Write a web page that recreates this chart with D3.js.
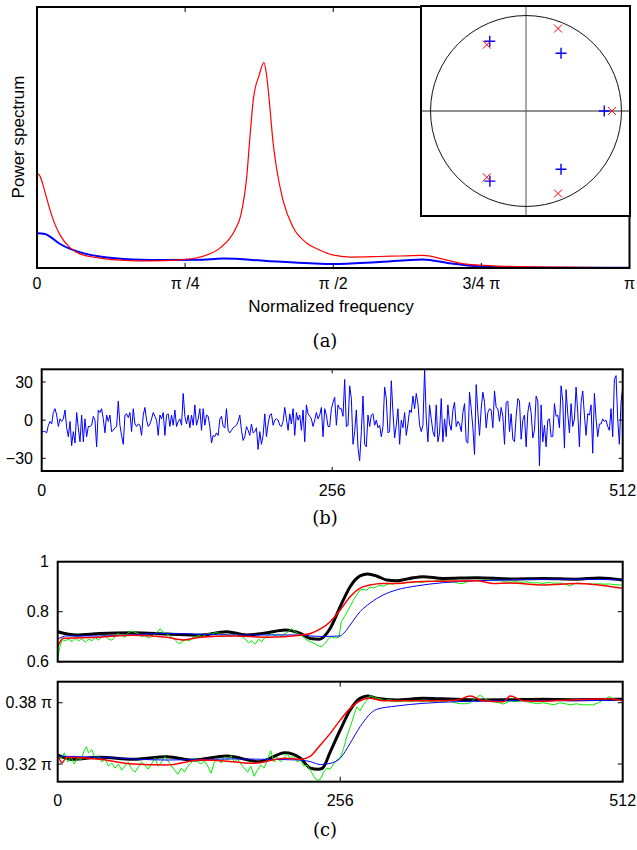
<!DOCTYPE html>
<html><head><meta charset="utf-8">
<script src="https://cdn.jsdelivr.net/npm/d3@7"></script>
<style>
html,body{margin:0;padding:0;background:#fff;}
svg text{font-family:"Liberation Sans",Arial,sans-serif;}
svg text.cap{font-family:"DejaVu Serif","Liberation Serif",serif;}
</style></head>
<body><svg id="c" width="637" height="850"></svg>
<script>
// ---------- (a) power spectrum (frequency in units of pi) ----------
const freqRed  = [0,0.005,0.0135,0.022,0.030,0.039,0.056,0.0725,0.106,0.148,0.19,0.241,0.275,0.309,0.334,0.344,0.354,0.359,0.365,0.375,0.383,0.387,0.393,0.398,0.404,0.415,0.432,0.455,0.477,0.499,0.528,0.578,0.612,0.651,0.685,0.713,0.747,0.798,0.882,1];
const powerRed = [0.364,0.352,0.291,0.222,0.169,0.126,0.077,0.054,0.038,0.029,0.027,0.031,0.042,0.077,0.146,0.203,0.350,0.49,0.644,0.739,0.787,0.747,0.617,0.49,0.387,0.261,0.157,0.096,0.069,0.050,0.042,0.044,0.046,0.048,0.034,0.019,0.011,0.006,0.003,0.001];
const freqBlue  = [0,0.0135,0.022,0.039,0.056,0.0776,0.106,0.162,0.219,0.275,0.314,0.388,0.46,0.499,0.572,0.651,0.696,0.747,0.815,1];
const powerBlue = [0.133,0.130,0.120,0.092,0.073,0.057,0.044,0.033,0.031,0.032,0.036,0.027,0.018,0.015,0.022,0.033,0.018,0.006,0.002,0.001];
const freqTicks = [0,0.25,0.5,0.75,1];
const freqTickLabels = ["0","\u03c0 /4","\u03c0 /2","3/4 \u03c0","\u03c0"];
// pole plot (inset)
const polesBlue = [[-0.38,0.73],[0.367,0.605],[0.82,0],[0.367,-0.61],[-0.378,-0.735]];
const polesRed  = [[0.336,0.864],[-0.41,0.695],[0.9,0],[-0.41,-0.695],[0.336,-0.864]];

// ---------- (b) signal ----------
const signalB = [
-9,-9,-9,-10,-4,-1,-3,6,9,4,-5,1,-1,1,8,-6,-13,-1,-20,-9,-18,6,-6,-17,4,-17,1,-13,-5,-5,-4,3,0,-21,8,6,9,1,-10,4,-1,4,-9,-8,-6,-5,15,-4,-12,-19,4,5,2,6,-9,9,-3,-5,-3,-4,-12,4,10,0,-5,-3,1,6,3,0,-12,4,1,6,-12,4,5,-5,4,-4,8,-5,-1,1,-4,21,
3,-3,4,-6,4,-4,12,-4,1,9,-8,9,-4,4,3,-5,-18,-12,-13,-10,-12,1,3,-5,-6,9,-8,-10,-8,-6,-5,-4,-1,4,-8,-16,-13,-5,-8,-12,-3,-10,-9,-6,-23,-9,-19,-12,5,-13,-3,4,5,-4,0,1,0,-4,-5,-1,10,1,-8,5,-3,9,-12,6,0,4,-8,8,-17,12,5,3,1,-5,0,6,1,4,10,-13,9,4,-5,
-5,9,14,18,-4,12,9,9,3,32,-5,-4,27,17,-19,-9,8,-22,-32,-9,19,-19,-21,4,-5,4,5,-4,0,-6,-4,-13,-5,26,17,-10,-9,31,6,-14,-4,9,-19,0,-6,6,-12,-3,8,6,19,9,21,13,-4,-9,-4,40,1,-17,12,1,-9,-13,12,-17,-10,17,-17,1,-13,12,-3,-8,8,14,-5,-1,-3,-9,6,13,-17,-18,22,9,-6,-27,
28,6,-12,9,22,14,-6,6,9,8,-6,23,10,9,-1,10,3,-19,14,15,-9,5,-15,-17,3,17,15,-15,0,4,-21,6,14,6,-14,-8,19,15,-36,12,-17,-4,-21,0,1,-13,-13,13,3,4,-6,27,15,-22,24,5,-10,13,-5,1,26,6,-21,14,23,4,-12,5,4,12,-26,21,1,-13,-3,-3,1,-1,0,-5,-8,9,-13,32,35,1,-19,14,26];
const ticksB = [-30,0,30];
const sampleTicks = [0,256,512];

// ---------- (c) top: estimates ----------
const topBlack = [[0,0.72],[17,0.707],[38,0.713],[68,0.716],[99,0.711],[129,0.706],[153,0.72],[171,0.707],[190,0.716],[206,0.727],[220,0.713],[229,0.693],[237,0.69],[247,0.734],[256,0.82],[265,0.90],[274,0.943],[281,0.951],[289,0.943],[298,0.927],[307,0.924],[319,0.933],[331,0.94],[349,0.933],[380,0.936],[410,0.931],[440,0.933],[470,0.93],[491,0.935],[512,0.927]];
const topBlue = [[0,0.69],[8,0.703],[38,0.703],[99,0.713],[159,0.707],[220,0.707],[229,0.703],[240,0.701],[256,0.703],[259,0.713],[265,0.747],[274,0.80],[283,0.834],[295,0.867],[307,0.887],[325,0.903],[349,0.916],[380,0.924],[410,0.927],[440,0.93],[470,0.93],[512,0.927]];
const topRed = [[0,0.66],[5,0.694],[38,0.698],[68,0.706],[99,0.698],[114,0.687],[129,0.698],[159,0.703],[190,0.698],[220,0.706],[229,0.713],[238,0.731],[247,0.76],[256,0.807],[265,0.86],[274,0.894],[283,0.907],[295,0.913],[307,0.913],[325,0.92],[349,0.922],[380,0.924],[394,0.913],[410,0.915],[440,0.907],[470,0.913],[490,0.907],[512,0.894]];
const topGreen = [[0,0.612],[2,0.66],[4,0.688],[7,0.684],[10,0.69],[13,0.68],[16,0.695],[19,0.683],[22,0.692],[25,0.678],[28,0.69],[31,0.684],[34,0.697],[37,0.686],[40,0.70],[43,0.704],[46,0.69],[49,0.686],[52,0.70],[55,0.712],[58,0.705],[61,0.698],[64,0.716],[67,0.722],[70,0.718],[73,0.712],[76,0.70],[79,0.705],[82,0.695],[85,0.70],[88,0.71],[91,0.722],[93,0.732],[95,0.72],[98,0.715],[101,0.705],[104,0.695],[107,0.685],[110,0.672],[113,0.68],[116,0.688],[119,0.683],[122,0.695],[125,0.70],[128,0.705],[131,0.70],[134,0.708],[137,0.712],[140,0.71],[143,0.717],[146,0.714],[149,0.706],[152,0.71],[155,0.704],[158,0.70],[161,0.71],[164,0.705],[167,0.70],[170,0.69],[173,0.675],[176,0.684],[179,0.67],[182,0.69],[185,0.68],[188,0.698],[191,0.706],[194,0.712],[197,0.704],[200,0.71],[203,0.702],[206,0.712],[209,0.72],[212,0.732],[215,0.72],[218,0.712],[221,0.706],[224,0.692],[227,0.684],[230,0.678],[233,0.672],[236,0.664],[239,0.66],[242,0.672],[245,0.69],[248,0.70],[251,0.695],[255,0.698],[257,0.76],[260,0.78],[263,0.806],[265,0.82],[268,0.847],[271,0.868],[274,0.887],[277,0.89],[280,0.885],[283,0.899],[286,0.895],[289,0.90],[292,0.905],[295,0.902],[298,0.908],[301,0.912],[304,0.91],[308,0.916],[312,0.912],[316,0.918],[320,0.916],[325,0.92],[330,0.917],[335,0.922],[340,0.921],[345,0.924],[350,0.925],[355,0.92],[360,0.918],[364,0.912],[368,0.914],[372,0.922],[376,0.924],[380,0.926],[385,0.925],[390,0.927],[395,0.924],[400,0.926],[405,0.92],[410,0.918],[415,0.92],[420,0.917],[425,0.92],[430,0.915],[435,0.916],[440,0.913],[445,0.917],[450,0.914],[455,0.915],[460,0.91],[464,0.903],[468,0.912],[472,0.915],[476,0.912],[480,0.913],[485,0.91],[490,0.912],[495,0.91],[500,0.911],[505,0.908],[510,0.907],[512,0.906]];
const topTicks = [0.6,0.8,1];
const topTickLabels = ["0.6","0.8","1"];

// ---------- (c) bottom: estimates (units of pi) ----------
const botBlack = [[0,0.3288],[14,0.3246],[38,0.3266],[68,0.3246],[99,0.3271],[123,0.3239],[153,0.3278],[183,0.3223],[206,0.3311],[220,0.3256],[229,0.316],[236,0.3148],[240,0.316],[247,0.332],[256,0.3533],[265,0.3729],[274,0.3843],[281,0.3866],[289,0.3843],[307,0.3827],[331,0.3843],[349,0.3838],[380,0.3827],[410,0.383],[440,0.3835],[470,0.383],[512,0.3833]];
const botBlue = [[0,0.3278],[38,0.3266],[99,0.3239],[159,0.325],[190,0.3246],[220,0.3239],[229,0.3223],[238,0.3195],[247,0.3207],[256,0.3256],[265,0.3403],[274,0.3565],[289,0.3735],[307,0.3768],[331,0.3794],[361,0.381],[410,0.382],[470,0.382],[512,0.3828]];
const botRed = [[0,0.3288],[4,0.3213],[8,0.3266],[38,0.3246],[68,0.32],[99,0.319],[129,0.3239],[159,0.3223],[177,0.3207],[206,0.3256],[220,0.3246],[229,0.3278],[238,0.3386],[247,0.35],[256,0.363],[265,0.3745],[274,0.382],[283,0.3843],[295,0.382],[331,0.382],[361,0.3825],[374,0.3866],[385,0.382],[404,0.381],[410,0.3866],[422,0.382],[440,0.3815],[470,0.383],[500,0.384],[512,0.382]];
const botGreen = [[0,0.329],[3,0.325],[6,0.331],[9,0.322],[12,0.327],[15,0.32],[18,0.326],[21,0.324],[24,0.333],[26,0.337],[28,0.331],[31,0.334],[34,0.325],[37,0.328],[40,0.322],[43,0.325],[46,0.318],[49,0.321],[52,0.316],[55,0.32],[58,0.314],[61,0.318],[64,0.322],[67,0.315],[70,0.312],[73,0.317],[76,0.322],[79,0.319],[82,0.315],[85,0.32],[88,0.326],[91,0.318],[94,0.322],[97,0.327],[100,0.323],[103,0.318],[106,0.314],[109,0.31],[112,0.316],[115,0.312],[118,0.318],[121,0.321],[124,0.326],[127,0.322],[130,0.32],[133,0.323],[136,0.318],[139,0.311],[142,0.322],[145,0.326],[148,0.321],[151,0.327],[154,0.324],[157,0.328],[160,0.322],[163,0.325],[166,0.32],[169,0.316],[172,0.312],[175,0.318],[178,0.308],[181,0.314],[184,0.319],[187,0.316],[190,0.324],[193,0.333],[196,0.322],[199,0.327],[202,0.322],[205,0.326],[208,0.33],[211,0.325],[214,0.328],[217,0.322],[220,0.324],[223,0.318],[226,0.319],[229,0.314],[232,0.308],[235,0.304],[238,0.305],[241,0.312],[244,0.316],[247,0.315],[250,0.32],[253,0.324],[256,0.326],[259,0.335],[262,0.347],[265,0.356],[268,0.366],[271,0.376],[274,0.372],[277,0.378],[280,0.382],[283,0.387],[287,0.385],[292,0.384],[296,0.382],[300,0.383],[305,0.382],[310,0.381],[315,0.382],[320,0.381],[325,0.382],[330,0.381],[335,0.382],[340,0.381],[345,0.382],[350,0.381],[355,0.382],[360,0.38],[365,0.379],[370,0.379],[374,0.38],[378,0.384],[383,0.3875],[388,0.383],[395,0.381],[400,0.38],[404,0.3787],[410,0.382],[415,0.381],[420,0.382],[425,0.381],[430,0.38],[435,0.379],[440,0.38],[445,0.379],[450,0.378],[455,0.38],[460,0.379],[465,0.378],[470,0.379],[475,0.378],[480,0.378],[485,0.3778],[490,0.38],[495,0.383],[500,0.386],[505,0.383],[512,0.382]];
const botTicks = [0.32,0.38];
const botTickLabels = ["0.32 \u03c0","0.38 \u03c0"];

// ================= drawing =================
const svg = d3.select("#c");
const FS = 16;   // tick labels
const LS = 17;   // axis labels
const CS = 18;   // panel captions

function frame(g, x0, y0, x1, y1, w) {
  g.append("rect").attr("x", x0).attr("y", y0).attr("width", x1 - x0).attr("height", y1 - y0)
    .attr("fill", "none").attr("stroke", "#000").attr("stroke-width", w || 2);
}
function tickLines(g, pts, len) {
  g.selectAll(null).data(pts).enter().append("line")
    .attr("x1", d => d[0]).attr("y1", d => d[1])
    .attr("x2", d => d[0] + d[2] * len).attr("y2", d => d[1] + d[3] * len)
    .attr("stroke", "#000").attr("stroke-width", 1);
}
function caption(x, y, t) {
  svg.append("text").attr("class", "cap").attr("x", x).attr("y", y).attr("text-anchor", "middle")
    .attr("font-size", CS).text(t);
}

// ----- panel (a)
{
  const g = svg.append("g");
  const x = d3.scaleLinear().domain([0, 1]).range([37, 629.5]);
  const y = d3.scaleLinear().domain([0, 1]).range([268, 7]);
  const line = d3.line().x(d => x(d[0])).y(d => y(d[1])).curve(d3.curveMonotoneX);
  g.append("path").datum(freqBlue.map((f, i) => [f, powerBlue[i]])).attr("d", line)
    .attr("fill", "none").attr("stroke", "#0000ff").attr("stroke-width", 2);
  g.append("path").datum(freqRed.map((f, i) => [f, powerRed[i]])).attr("d", line)
    .attr("fill", "none").attr("stroke", "#ff0000").attr("stroke-width", 1.2);
  const tp = [];
  freqTicks.slice(1, -1).forEach(t => { tp.push([x(t), 268, 0, -1]); tp.push([x(t), 7, 0, 1]); });
  tickLines(g, tp, 5);
  frame(g, 37, 7, 629.5, 268);
  g.selectAll(null).data(freqTicks).enter().append("text")
    .attr("x", d => x(d)).attr("y", 289).attr("text-anchor", "middle")
    .attr("font-size", FS).text((d, i) => freqTickLabels[i]);
  g.append("text").attr("x", 331).attr("y", 312).attr("text-anchor", "middle")
    .attr("font-size", LS).text("Normalized frequency");
  g.append("text").attr("transform", "translate(24,137) rotate(-90)").attr("text-anchor", "middle")
    .attr("font-size", LS).text("Power spectrum");

  // inset
  const xi = d3.scaleLinear().domain([-1.1, 1.1]).range([421, 631]);
  const yi = d3.scaleLinear().domain([-1.1, 1.1]).range([216, 6]);
  g.append("rect").attr("x", 421).attr("y", 6).attr("width", 209).attr("height", 210).attr("fill", "#fff");
  g.append("line").attr("x1", xi(-1.1)).attr("x2", xi(1.1)).attr("y1", yi(0)).attr("y2", yi(0))
    .attr("stroke", "#222").attr("stroke-width", 1);
  g.append("line").attr("x1", xi(0)).attr("x2", xi(0)).attr("y1", yi(-1.1)).attr("y2", yi(1.1))
    .attr("stroke", "#555").attr("stroke-width", 1);
  g.append("circle").attr("cx", xi(0)).attr("cy", yi(0)).attr("r", xi(1) - xi(0))
    .attr("fill", "none").attr("stroke", "#111").attr("stroke-width", 1);
  g.selectAll(null).data(polesBlue).enter().append("path")
    .attr("d", "M-5.5,0H5.5M0,-5.5V5.5")
    .attr("transform", d => `translate(${xi(d[0])},${yi(d[1])})`)
    .attr("stroke", "#0000ff").attr("stroke-width", 1.4).attr("fill", "none");
  g.selectAll(null).data(polesRed).enter().append("path")
    .attr("d", "M-4,-4L4,4M-4,4L4,-4")
    .attr("transform", d => `translate(${xi(d[0])},${yi(d[1])})`)
    .attr("stroke", "#ff0000").attr("stroke-width", 1).attr("fill", "none");
  frame(g, 421, 6, 630, 216, 2);
  caption(325, 347, "(a)");
}

// ----- panel (b)
{
  const g = svg.append("g");
  const x = d3.scaleLinear().domain([0, 512]).range([41.7, 622.7]);
  const y = d3.scaleLinear().domain([-40, 40]).range([471, 369.3]);
  const n = signalB.length;
  const line = d3.line().x((d, i) => x(i * 512 / (n - 1))).y(d => y(d));
  g.append("path").datum(signalB).attr("d", line).attr("fill", "none")
    .attr("stroke", "#0000ff").attr("stroke-width", 1);
  const tp = [];
  ticksB.forEach(t => { tp.push([41.7, y(t), 1, 0]); tp.push([622.7, y(t), -1, 0]); });
  tp.push([x(256), 471, 0, -1]); tp.push([x(256), 369.3, 0, 1]);
  tickLines(g, tp, 4);
  frame(g, 41.7, 369.3, 622.7, 471);
  g.selectAll(null).data(ticksB).enter().append("text")
    .attr("x", 33).attr("y", d => y(d) + 5.5).attr("text-anchor", "end")
    .attr("font-size", FS).text(d => d < 0 ? "\u2212" + Math.abs(d) : d);
  g.selectAll(null).data(sampleTicks).enter().append("text")
    .attr("x", d => x(d)).attr("y", 496).attr("text-anchor", "middle")
    .attr("font-size", FS).text(d => d);
  caption(325, 524, "(b)");
}

// ----- panel (c)
function cPanel(top, bottom, domain, ticks, labels, labelX, series, xTicks) {
  const g = svg.append("g");
  const x = d3.scaleLinear().domain([0, 512]).range([57.7, 622.7]);
  const y = d3.scaleLinear().domain(domain).range([bottom, top]);
  const smooth = d3.line().x(d => x(d[0])).y(d => y(d[1])).curve(d3.curveMonotoneX);
  const raw = d3.line().x(d => x(d[0])).y(d => y(d[1]));
  g.append("defs").append("clipPath").attr("id", "clip" + Math.round(top))
    .append("rect").attr("x", 57.7).attr("y", top).attr("width", 565).attr("height", bottom - top);
  const pg = g.append("g").attr("clip-path", `url(#clip${Math.round(top)})`);
  pg.append("path").datum(series[0]).attr("d", smooth).attr("fill", "none").attr("stroke", "#000").attr("stroke-width", 3);
  pg.append("path").datum(series[1]).attr("d", raw).attr("fill", "none").attr("stroke", "#00ee00").attr("stroke-width", 1);
  pg.append("path").datum(series[2]).attr("d", smooth).attr("fill", "none").attr("stroke", "#0000ff").attr("stroke-width", 1);
  pg.append("path").datum(series[3]).attr("d", smooth).attr("fill", "none").attr("stroke", "#ff0000").attr("stroke-width", 1.5);
  const tp = [];
  ticks.forEach(t => { tp.push([57.7, y(t), 1, 0]); tp.push([622.7, y(t), -1, 0]); });
  if (xTicks) { tp.push([x(256), bottom, 0, -1]); tp.push([x(256), top, 0, 1]); }
  tickLines(g, tp, 5);
  frame(g, 57.7, top, 622.7, bottom);
  g.selectAll(null).data(ticks).enter().append("text")
    .attr("x", labelX).attr("y", d => y(d) + 5.5).attr("text-anchor", "end")
    .attr("font-size", FS).text((d, i) => labels[i]);
  return x;
}
cPanel(561.7, 661.7, [0.6, 1.0], topTicks, topTickLabels, 49, [topBlack, topGreen, topBlue, topRed], false);
const xc = cPanel(681.7, 781.7, [0.3027, 0.4006], botTicks, botTickLabels, 52, [botBlack, botGreen, botBlue, botRed], true);
svg.selectAll(null).data(sampleTicks).enter().append("text")
  .attr("x", d => xc(d)).attr("y", 806).attr("text-anchor", "middle")
  .attr("font-size", FS).text(d => d);
caption(325, 836, "(c)");
</script></body></html>
